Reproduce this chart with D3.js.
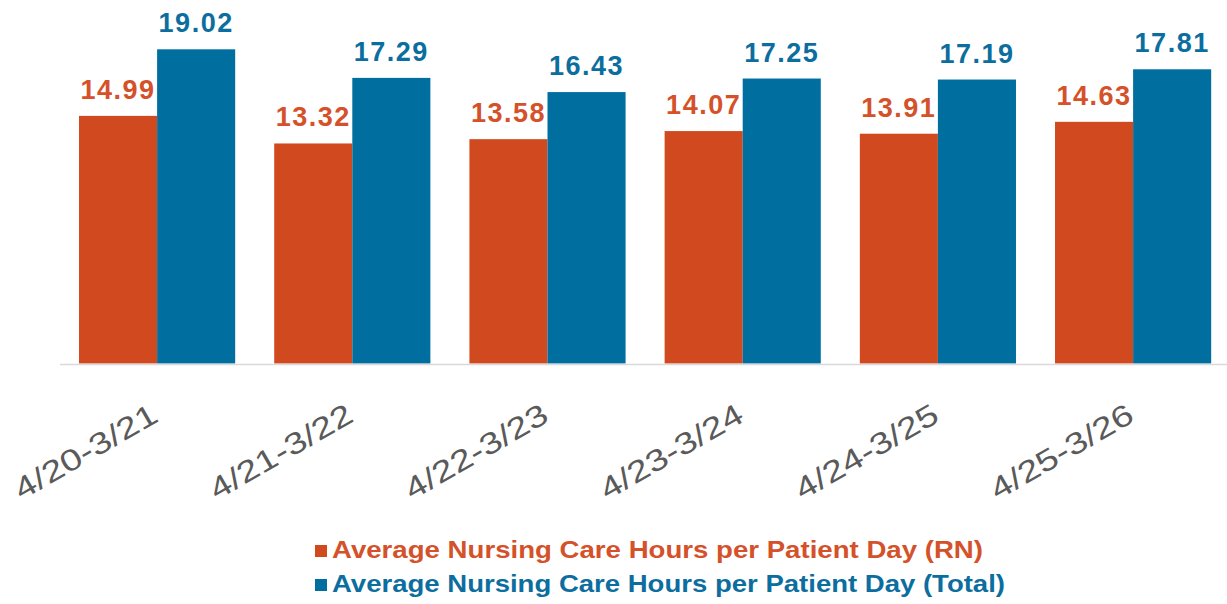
<!DOCTYPE html>
<html>
<head>
<meta charset="utf-8">
<script src="https://cdn.jsdelivr.net/npm/d3@7"></script>
<style>
  body { margin: 0; background: #fff; }
  svg { display: block; }
</style>
</head>
<body>
<script>
// DATA
const periods = ["4/20-3/21", "4/21-3/22", "4/22-3/23", "4/23-3/24", "4/24-3/25", "4/25-3/26"];
const rnHours = [14.99, 13.32, 13.58, 14.07, 13.91, 14.63];
const totalHours = [19.02, 17.29, 16.43, 17.25, 17.19, 17.81];
const seriesNames = [
  "Average Nursing Care Hours per Patient Day (RN)",
  "Average Nursing Care Hours per Patient Day (Total)"
];

// CHART
const W = 1227, H = 604;
const baseY = 363.5;
const red = "#D1491E", blue = "#006FA0";

const svg = d3.select("body").append("svg")
  .attr("width", W)
  .attr("height", H);

const x0 = d3.scaleBand()
  .domain(periods)
  .range([59.5, 1230.7])
  .paddingInner(0.2)
  .paddingOuter(0.1);

const x1 = d3.scaleBand()
  .domain(["rn", "total"])
  .range([0, x0.bandwidth()]);

const y = d3.scaleLinear()
  .domain([0, 19.02])
  .range([baseY, 49.3]);

const rows = periods.map((p, i) => ({ period: p, rn: rnHours[i], total: totalHours[i] }));

const groups = svg.selectAll("g.grp")
  .data(rows)
  .enter().append("g")
  .attr("class", "grp")
  .attr("transform", d => `translate(${x0(d.period)},0)`);

const keys = [["rn", red, "#D4512A"], ["total", blue, "#0B6E9E"]];

keys.forEach(([k, c, lc]) => {
  groups.append("rect")
    .attr("x", x1(k))
    .attr("y", d => y(d[k]))
    .attr("width", x1.bandwidth())
    .attr("height", d => baseY - y(d[k]))
    .attr("fill", c);

  groups.append("text")
    .text(d => d[k].toFixed(2))
    .attr("x", x1(k) + x1.bandwidth() / 2)
    .attr("y", d => y(d[k]) - 17)
    .attr("text-anchor", "middle")
    .attr("fill", lc)
    .style("font-family", "Liberation Sans, Arial, sans-serif")
    .style("font-weight", "bold")
    .style("font-size", "27px")
    .style("letter-spacing", "1.5px");
});

// baseline
svg.append("line")
  .attr("x1", 60).attr("x2", W)
  .attr("y1", baseY + 1).attr("y2", baseY + 1)
  .attr("stroke", "#d9d9d9")
  .attr("stroke-width", 1.5);

// category labels
const xAxis = d3.axisBottom(x0).tickSize(0).tickPadding(0);
const gx = svg.append("g")
  .attr("transform", `translate(0,${baseY})`)
  .call(xAxis);
gx.select(".domain").remove();
gx.selectAll("text")
  .attr("x", 0)
  .attr("y", 0)
  .attr("dy", 0)
  .attr("text-anchor", "end")
  .attr("transform", "translate(3,57) rotate(-30)")
  .attr("fill", "#5a5a5a")
  .attr("textLength", 160)
  .attr("lengthAdjust", "spacingAndGlyphs")
  .style("font-family", "Liberation Sans, Arial, sans-serif")
  .style("font-size", "30px");

// legend
const legend = svg.append("g");
[[red, "#D4512A", 558, 651], [blue, "#0B6E9E", 592, 673]].forEach(([c, tc, by, tl], i) => {
  legend.append("rect")
    .attr("x", 315).attr("y", by - 13)
    .attr("width", 12).attr("height", 12)
    .attr("fill", c);
  legend.append("text")
    .text(seriesNames[i])
    .attr("x", 332).attr("y", by)
    .attr("fill", tc)
    .attr("textLength", tl)
    .attr("lengthAdjust", "spacingAndGlyphs")
    .style("font-family", "Liberation Sans, Arial, sans-serif")
    .style("font-weight", "bold")
    .style("font-size", "24px");
});
</script>
</body>
</html>
